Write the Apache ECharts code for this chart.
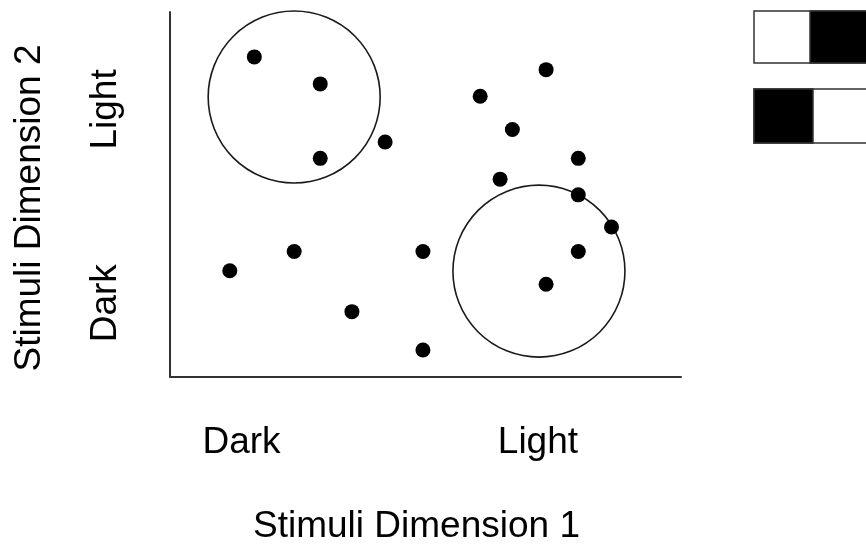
<!DOCTYPE html>
<html>
<head>
<meta charset="utf-8">
<script src="https://cdn.jsdelivr.net/npm/echarts@6/dist/echarts.min.js"></script>
<style>
  html, body { margin: 0; padding: 0; background: #fff; }
  #chart { width: 866px; height: 550px; }
</style>
</head>
<body>
<div id="chart"></div>
<script>
// Stimulus positions in the two-dimensional stimulus space (0–10 on each dimension)
const stimulusX = [1.65, 2.94, 2.94, 4.21, 7.36, 6.07, 6.70, 7.99, 6.46, 7.99, 8.64, 7.99, 7.36, 4.95, 2.43, 1.17, 3.56, 4.95];
const stimulusY = [8.77, 8.03, 5.99, 6.44, 8.42, 7.69, 6.78, 5.99, 5.42, 4.99, 4.11, 3.44, 2.54, 3.44, 3.44, 2.91, 1.79, 0.74];

// Centres of the two category regions
const regionX = [2.43, 7.22];
const regionY = [7.67, 2.90];

// Tick labels on each dimension
const xTickValues = [1.40, 7.20];
const xTickLabels = ['Dark', 'Light'];
const yTickValues = [2.02, 7.33];
const yTickLabels = ['Dark', 'Light'];

const xTitle = 'Stimuli Dimension 1';
const yTitle = 'Stimuli Dimension 2';

const FONT = '"Liberation Sans", Arial, Helvetica, sans-serif';
const INK = '#000';

function labelFor(values, labels) {
  return function (v) {
    let best = 0;
    for (let i = 1; i < values.length; i++) {
      if (Math.abs(values[i] - v) < Math.abs(values[best] - v)) best = i;
    }
    return labels[best];
  };
}

const stimuli = stimulusX.map((x, i) => [x, stimulusY[i]]);
const regions = regionX.map((x, i) => [x, regionY[i]]);

const chart = echarts.init(document.getElementById('chart'), null, { renderer: 'canvas' });

chart.setOption({
  backgroundColor: '#fff',
  animation: false,
  grid: { left: 170, right: 185, top: 12, bottom: 171, containLabel: false },
  xAxis: {
    type: 'value',
    min: 0,
    max: 10,
    splitLine: { show: false },
    axisTick: { show: false },
    axisLine: { show: true, onZero: false, lineStyle: { color: '#333', width: 2 } },
    axisLabel: {
      customValues: xTickValues,
      formatter: labelFor(xTickValues, xTickLabels),
      margin: 47,
      fontSize: 37,
      lineHeight: 37,
      color: INK,
      fontFamily: FONT
    },
    name: xTitle,
    nameLocation: 'middle',
    nameGap: 131,
    nameTextStyle: { fontSize: 37, lineHeight: 37, color: INK, fontFamily: FONT, padding: [0, 18, 0, 0] }
  },
  yAxis: {
    type: 'value',
    min: 0,
    max: 10,
    splitLine: { show: false },
    axisTick: { show: false },
    axisLine: { show: true, onZero: false, lineStyle: { color: '#333', width: 2 } },
    axisLabel: {
      customValues: yTickValues,
      formatter: labelFor(yTickValues, yTickLabels),
      rotate: 90,
      margin: 46,
      fontSize: 37,
      lineHeight: 37,
      color: INK,
      fontFamily: FONT
    },
    name: yTitle,
    nameLocation: 'middle',
    nameGap: 122,
    nameTextStyle: { fontSize: 37, lineHeight: 37, color: INK, fontFamily: FONT, padding: [0, 27, 0, 0] }
  },
  series: [
    {
      name: 'regions',
      type: 'scatter',
      data: regions,
      symbol: 'circle',
      symbolSize: 172,
      silent: true,
      z: 1,
      itemStyle: { color: 'rgba(0,0,0,0)', borderColor: '#1a1a1a', borderWidth: 1.6, opacity: 1 },
      emphasis: { disabled: true }
    },
    {
      name: 'stimuli',
      type: 'scatter',
      data: stimuli,
      symbol: 'circle',
      symbolSize: 15,
      z: 3,
      itemStyle: { color: '#000', opacity: 1 },
      emphasis: { disabled: true }
    }
  ],
  // Two example stimuli swatches in the upper right
  graphic: [
    { type: 'rect', shape: { x: 754, y: 11, width: 130, height: 52 }, style: { fill: '#fff', stroke: '#333', lineWidth: 1.5 } },
    { type: 'rect', shape: { x: 810, y: 11, width: 74, height: 52 }, style: { fill: '#000', stroke: '#333', lineWidth: 1.5 } },
    { type: 'rect', shape: { x: 754, y: 89, width: 130, height: 54 }, style: { fill: '#fff', stroke: '#333', lineWidth: 1.5 } },
    { type: 'rect', shape: { x: 754, y: 89, width: 59, height: 54 }, style: { fill: '#000', stroke: '#333', lineWidth: 1.5 } }
  ]
});
</script>
</body>
</html>
